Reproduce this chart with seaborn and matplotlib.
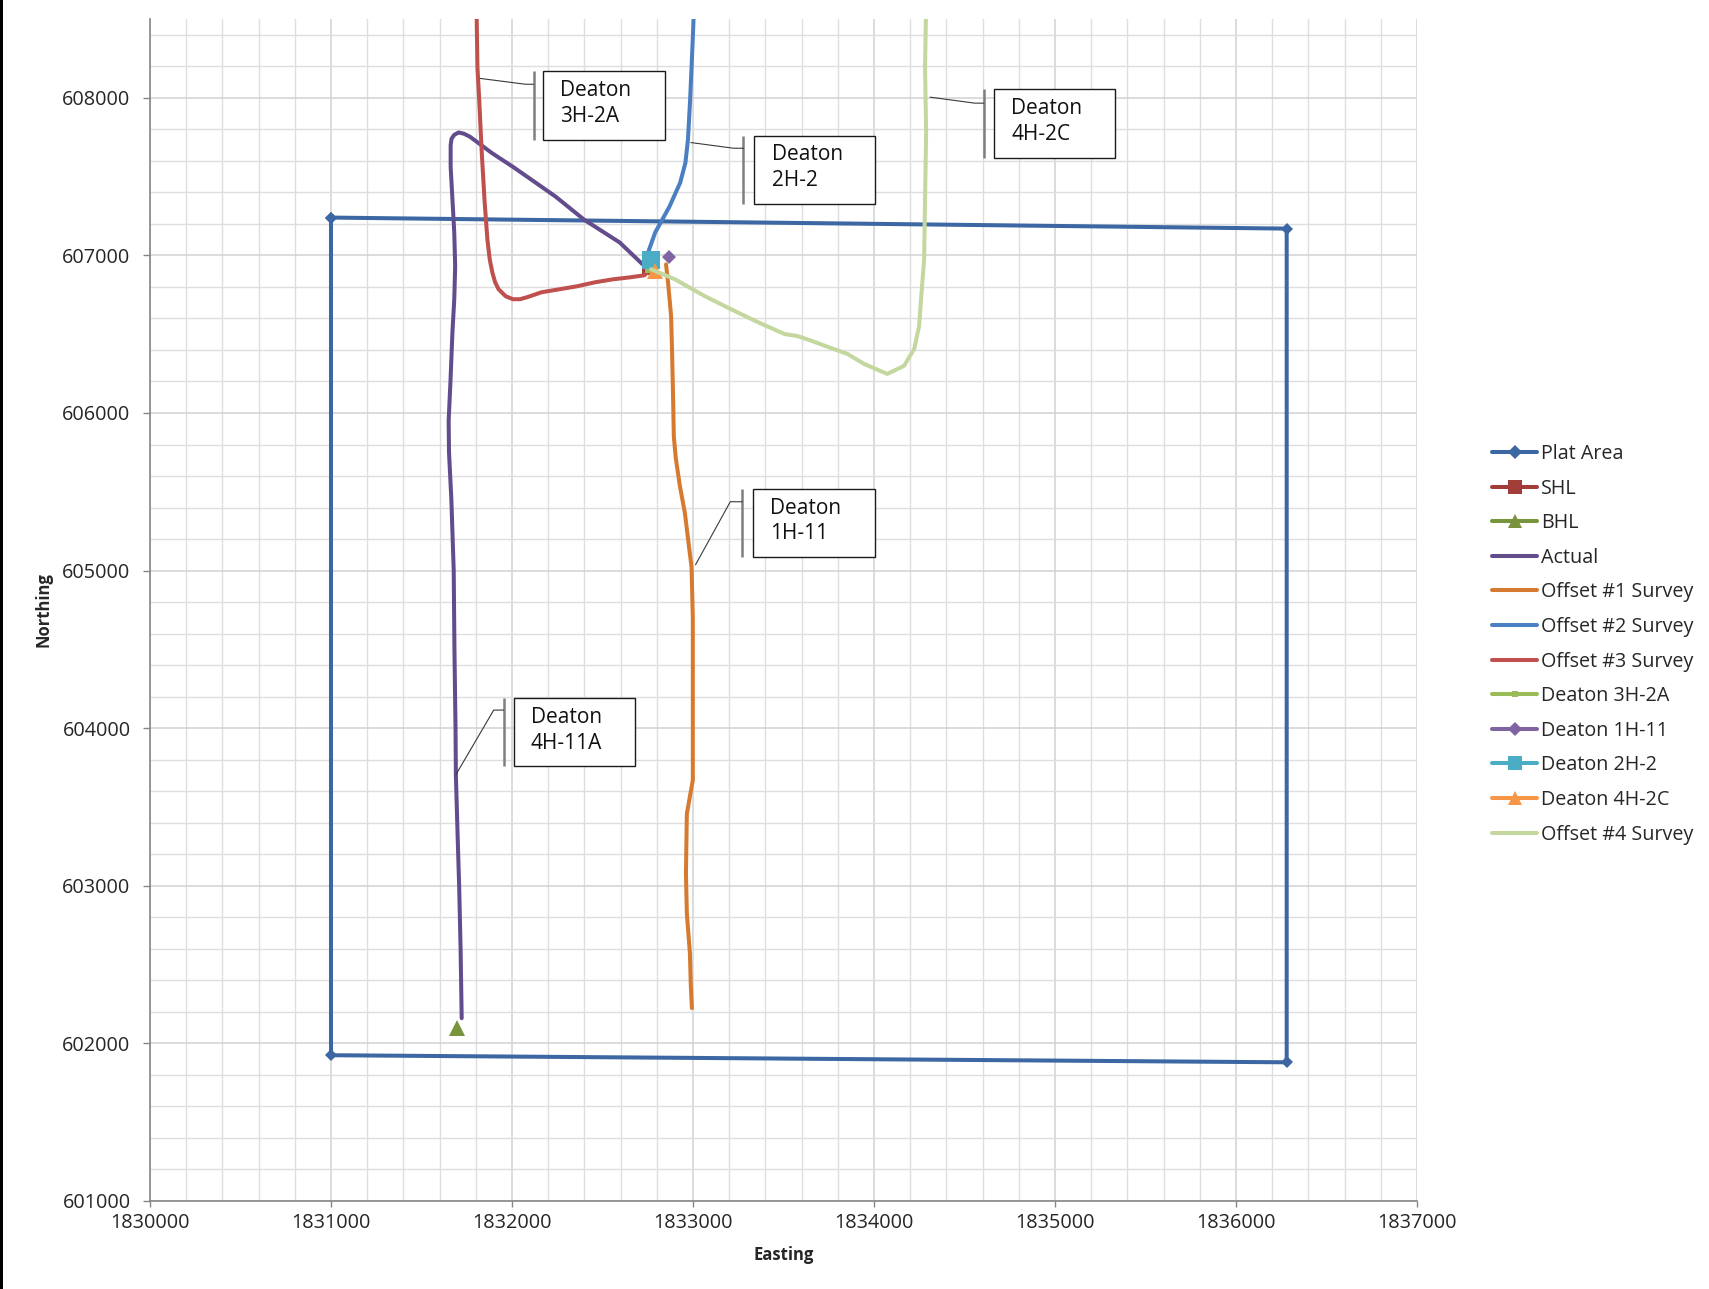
import matplotlib
matplotlib.use("Agg")
import matplotlib.pyplot as plt
from matplotlib.patches import Rectangle
from matplotlib.ticker import MultipleLocator, FuncFormatter
import seaborn as sns

# ---------------- well data (Easting / Northing) ----------------
plat_e = [1831000, 1836280, 1836280, 1831000, 1831000]
plat_n = [607240, 607170, 601880, 601925, 607240]

shl_e = [1832765]
shl_n = [606925]

bhl_e = [1831695]
bhl_n = [602100]

actual_e = [1832720, 1832595, 1832398, 1832241, 1832084, 1832005, 1831887, 1831769,
            1831735, 1831705, 1831681, 1831666, 1831661, 1831661, 1831671, 1831681,
            1831686, 1831681, 1831671, 1831660, 1831650, 1831652, 1831665, 1831678,
            1831682, 1831688, 1831690, 1831700, 1831708, 1831716, 1831722]
actual_n = [606945, 607082, 607227, 607373, 607499, 607562, 607651, 607752,
            607772, 607780, 607765, 607740, 607700, 607562, 607354, 607145,
            606931, 606722, 606514, 606200, 605950, 605750, 605450, 605000,
            604500, 604000, 603700, 603300, 603000, 602600, 602160]

offset1_e = [1832851, 1832862, 1832879, 1832884, 1832890, 1832894, 1832905, 1832927,
             1832955, 1832977, 1832992, 1832999, 1832999, 1832999, 1832966, 1832961,
             1832966, 1832983, 1832988, 1832994]
offset1_n = [606943, 606829, 606615, 606406, 606100, 605851, 605713, 605540,
             605367, 605160, 605021, 604700, 604200, 603671, 603456, 603077,
             602824, 602572, 602363, 602224]

offset2_e = [1832752, 1832791, 1832870, 1832929, 1832958, 1832972, 1832984, 1832992,
             1833000, 1833006]
offset2_n = [607019, 607145, 607310, 607461, 607587, 607733, 607985, 608194,
             608409, 608600]

offset3_e = [1831803, 1831805, 1831809, 1831819, 1831832, 1831848, 1831864, 1831877,
             1831891, 1831907, 1831926, 1831965, 1832005, 1832044, 1832084, 1832163,
             1832261, 1832359, 1832457, 1832556, 1832653, 1832732, 1832752]
offset3_n = [608600, 608497, 608194, 607985, 607670, 607354, 607101, 606975,
             606893, 606829, 606785, 606741, 606722, 606722, 606735, 606766,
             606785, 606804, 606829, 606848, 606861, 606874, 606899]

offset4_e = [1832769, 1832901, 1833066, 1833209, 1833357, 1833506, 1833578, 1833650,
             1833732, 1833853, 1833946, 1834073, 1834166, 1834222, 1834249, 1834260,
             1834277, 1834282, 1834288, 1834282, 1834288]
offset4_n = [606912, 606848, 606741, 606659, 606577, 606501, 606488, 606460,
             606425, 606375, 606311, 606248, 606299, 606406, 606551, 606722,
             606975, 607354, 607777, 608194, 608600]

deaton_3h2a_e = [1832752]
deaton_3h2a_n = [606905]
deaton_1h11_e = [1832870]
deaton_1h11_n = [606990]
deaton_2h2_e = [1832769]
deaton_2h2_n = [606972]
deaton_4h2c_e = [1832790]
deaton_4h2c_n = [606900]

x_ticks = list(range(1830000, 1837001, 1000))
y_ticks = list(range(601000, 608001, 1000))

# ---------------- styling ----------------
sns.set_theme(style="white")
plt.rcParams["font.family"] = ["Open Sans", "DejaVu Sans"]
TEXT = "#262626"
AXIS_GRAY = "#868686"

fig = plt.figure(figsize=(17.09, 12.89), dpi=100)
W, H = 1709, 1289
ax = fig.add_axes([150 / W, 1 - 1201 / H, (1417 - 150) / W, (1201 - 19) / H])

# label, x, y, colour, marker, plot marker size, legend marker size
series = [
    ("Plat Area", plat_e, plat_n, "#3C67A3", "D", 6.5, 7.5),
    ("SHL", shl_e, shl_n, "#A13C39", "s", 12, 9.5),
    ("BHL", bhl_e, bhl_n, "#77933C", "^", 12, 10.5),
    ("Actual", actual_e, actual_n, "#634C8C", None, 0, 0),
    ("Offset #1 Survey", offset1_e, offset1_n, "#D67A30", None, 0, 0),
    ("Offset #2 Survey", offset2_e, offset2_n, "#4A7FC1", None, 0, 0),
    ("Offset #3 Survey", offset3_e, offset3_n, "#C0504D", None, 0, 0),
    ("Deaton 3H-2A", deaton_3h2a_e, deaton_3h2a_n, "#9BBB59", "s", 4, 4),
    ("Deaton 1H-11", deaton_1h11_e, deaton_1h11_n, "#8064A2", "D", 7.5, 7.5),
    ("Deaton 2H-2", deaton_2h2_e, deaton_2h2_n, "#4BACC6", "s", 12.5, 9.5),
    ("Deaton 4H-2C", deaton_4h2c_e, deaton_4h2c_n, "#F79646", "^", 11, 10.5),
    ("Offset #4 Survey", offset4_e, offset4_n, "#C4D79E", None, 0, 0),
]

legend_ms = {}
for label, xs, ys, color, marker, ms, lms in series:
    kw = dict(marker=marker, markersize=ms, markeredgecolor=color,
              markerfacecolor=color, markeredgewidth=0) if marker else {}
    sns.lineplot(x=xs, y=ys, ax=ax, sort=False, estimator=None, color=color,
                 linewidth=2.9, label=label, **kw)
    legend_ms[label] = lms
for ln in ax.get_lines():
    ln.set_solid_joinstyle("round")
    ln.set_solid_capstyle("round")

# ---------------- axes ----------------
ax.set_xlim(1830000, 1837000)
ax.set_ylim(601000, 608500)
ax.set_xticks(x_ticks)
ax.set_yticks(y_ticks)
ax.xaxis.set_minor_locator(MultipleLocator(200))
ax.yaxis.set_minor_locator(MultipleLocator(200))
fmt = FuncFormatter(lambda v, _: f"{v:.0f}")
ax.xaxis.set_major_formatter(fmt)
ax.yaxis.set_major_formatter(fmt)

ax.set_axisbelow(True)
ax.grid(which="major", color="#D2D2D2", linewidth=1.1)
ax.grid(which="minor", color="#DEDEDE", linewidth=1.0)
for side in ("top", "right"):
    ax.spines[side].set_visible(False)
for side in ("left", "bottom"):
    ax.spines[side].set_color(AXIS_GRAY)
    ax.spines[side].set_linewidth(1.2)

ax.tick_params(which="major", bottom=True, left=True, direction="out",
               color=AXIS_GRAY, labelsize=14.3, labelcolor=TEXT, width=1)
ax.tick_params(axis="y", which="major", length=5, pad=9)
ax.tick_params(axis="x", which="major", length=4, pad=5)
ax.tick_params(which="minor", length=0)

ax.set_xlabel("Easting", fontsize=12, fontweight="bold", color=TEXT)
ax.set_ylabel("Northing", fontsize=12, fontweight="bold", color=TEXT)
ax.xaxis.set_label_coords(0.5, -0.038)
ax.yaxis.set_label_coords(-0.077, 0.5)

# ---------------- callouts ----------------
callouts = [
    ("Deaton\n3H-2A", (1832172, 607733, 1832846, 608169), 1832119,
     [(1831824, 608123), (1832074, 608086), (1832119, 608086)]),
    ("Deaton\n2H-2", (1833338, 607327, 1834006, 607760), 1833279,
     [(1832988, 607716), (1833224, 607680), (1833279, 607680)]),
    ("Deaton\n4H-2C", (1834662, 607619, 1835333, 608055), 1834607,
     [(1834310, 608004), (1834557, 607966), (1834607, 607966)]),
    ("Deaton\n1H-11", (1833332, 605085, 1834004, 605519), 1833272,
     [(1833014, 605037), (1833206, 605437), (1833272, 605437)]),
    ("Deaton\n4H-11A", (1832009, 603759, 1832680, 604189), 1831954,
     [(1831691, 603707), (1831899, 604115), (1831954, 604115)]),
]
for text, (x0, y0, x1, y1), bx, leader in callouts:
    ax.add_patch(Rectangle((x0, y0), x1 - x0, y1 - y0, facecolor="white",
                           edgecolor="#1A1A1A", linewidth=1.0, zorder=6))
    ax.annotate(text, xy=(x0, (y0 + y1) / 2), xytext=(12.5, 1.5),
                textcoords="offset points", ha="left", va="center",
                fontsize=15, color="#111111", linespacing=1.3, zorder=7)
    ax.plot([bx, bx], [y0, y1], color="#7F7F7F", linewidth=1.8, zorder=6,
            solid_capstyle="butt")
    lx, ly = zip(*leader)
    ax.plot(lx, ly, color="#3A3A3A", linewidth=0.8, zorder=6)

# ---------------- legend ----------------
if ax.get_legend() is not None:
    ax.get_legend().remove()
handles, labels = ax.get_legend_handles_labels()
keep = [i for i, l in enumerate(labels) if l in legend_ms]
handles = [handles[i] for i in keep]
labels = [labels[i] for i in keep]
leg = fig.legend(handles, labels, loc="upper left",
                 bbox_to_anchor=(1492 / W, 1 - 444 / H), frameon=False,
                 fontsize=14.2, handlelength=2.3, handletextpad=0.2,
                 labelspacing=0.74, borderpad=0, borderaxespad=0)
for h, l in zip(leg.legend_handles, labels):
    h.set_linewidth(2.9)
    if h.get_marker() not in (None, "None", ""):
        h.set_markersize(legend_ms[l])
for t in leg.get_texts():
    t.set_color(TEXT)

# thin dark edge along the left border
fig.patches.append(Rectangle((0, 0), 3 / W, 1, transform=fig.transFigure,
                             facecolor="black", edgecolor="none"))

fig.savefig("out.png", dpi=100)
